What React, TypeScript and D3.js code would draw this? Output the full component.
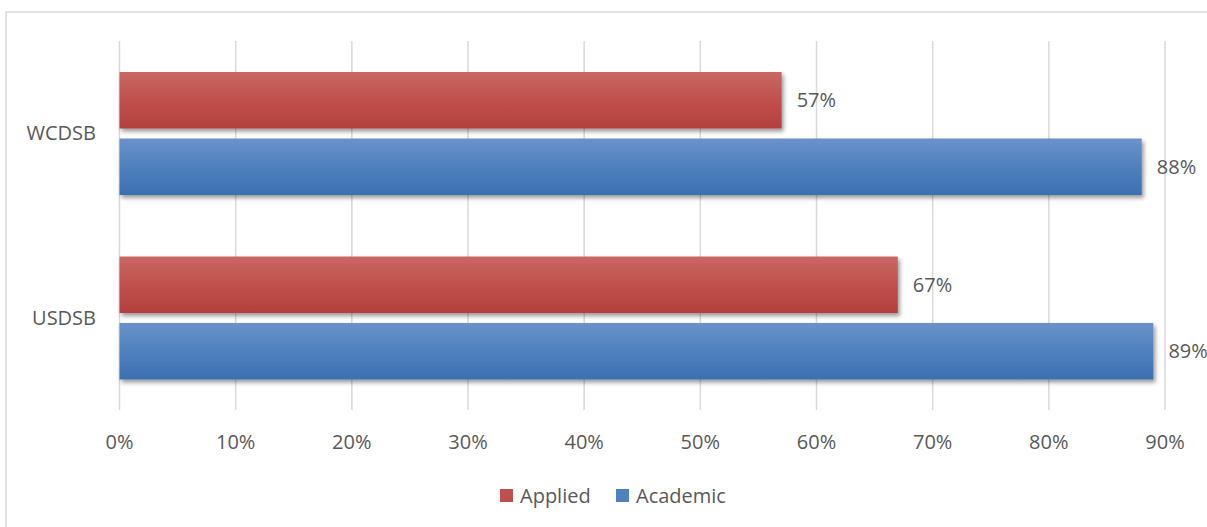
import React from "react";
import { scaleBand, scaleLinear, range } from "d3";

const categories = ["WCDSB", "USDSB"];
const seriesNames = ["Applied", "Academic"];
const applied = [0.57, 0.67];
const academic = [0.88, 0.89];
const tickValues = range(0, 10).map((i) => i / 10);

const seriesValues: Record<string, number[]> = { Applied: applied, Academic: academic };
const gradients: Record<string, string[]> = {
    Applied: ["#c96865", "#c0504d", "#b2403d"],
    Academic: ["#6b92ca", "#4f81bd", "#3d6fb1"],
};
const legendColors: Record<string, string> = { Applied: "#c0504d", Academic: "#4f81bd" };

const W = 1207;
const H = 527;
const FONT = "'Open Sans', 'DejaVu Sans', sans-serif";
const TEXT = "#595959";

export default function App() {
    const x = scaleLinear().domain([0, 0.9]).range([119.5, 1165]);
    const y0 = scaleBand().domain(categories).range([41, 410]);
    const y1 = scaleBand().domain(seriesNames).range([31, 154]).paddingInner(0.15);

    return (
        <svg width={W} height={H} style={{ position: "absolute", left: 0, top: 0, background: "#fff" }}>
            <defs>
                {seriesNames.map((s) => (
                    <linearGradient key={s} id={"g-" + s} x1="0" y1="0" x2="0" y2="1">
                        <stop offset="0%" stopColor={gradients[s][0]} />
                        <stop offset="50%" stopColor={gradients[s][1]} />
                        <stop offset="100%" stopColor={gradients[s][2]} />
                    </linearGradient>
                ))}
                <filter id="shadow" x="-5%" y="-20%" width="110%" height="150%">
                    <feDropShadow dx="2" dy="3" stdDeviation="2" floodColor="#000" floodOpacity="0.4" />
                </filter>
            </defs>
            <rect x={6} y={12} width={W + 10} height={H + 10} fill="none" stroke="#d9d9d9" strokeWidth={1.5} />

            {/* grid */}
            {tickValues.map((t) => (
                <line key={t} x1={x(t)} x2={x(t)} y1={41} y2={410} stroke="#d9d9d9" strokeWidth={1.5} />
            ))}

            {/* bars */}
            {categories.map((c, i) => (
                <g key={c} transform={`translate(0, ${y0(c)})`}>
                    {seriesNames.map((s) => {
                        const v = seriesValues[s][i];
                        const yy = y1(s) || 0;
                        return (
                            <g key={s}>
                                <rect
                                    x={x(0)}
                                    y={yy}
                                    width={x(v) - x(0)}
                                    height={y1.bandwidth()}
                                    fill={`url(#g-${s})`}
                                    filter="url(#shadow)"
                                />
                                <text
                                    x={x(v) + 15}
                                    y={yy + y1.bandwidth() / 2}
                                    dy="0.35em"
                                    fontFamily={FONT}
                                    fontSize={20}
                                    fill={TEXT}
                                >
                                    {Math.round(v * 100)}%
                                </text>
                            </g>
                        );
                    })}
                    <text
                        x={96}
                        y={y0.bandwidth() / 2}
                        dy="0.35em"
                        textAnchor="end"
                        fontFamily={FONT}
                        fontSize={20}
                        fill={TEXT}
                    >
                        {c}
                    </text>
                </g>
            ))}

            {/* x axis labels */}
            {tickValues.map((t) => (
                <text
                    key={t}
                    x={x(t)}
                    y={442}
                    dy="0.35em"
                    textAnchor="middle"
                    fontFamily={FONT}
                    fontSize={20}
                    fill={TEXT}
                >
                    {Math.round(t * 100)}%
                </text>
            ))}

            {/* legend */}
            {seriesNames.map((s, i) => {
                const lx = i === 0 ? 500 : 616;
                return (
                    <g key={s} transform={`translate(${lx}, 489)`}>
                        <rect width={13} height={13} fill={legendColors[s]} />
                        <text x={20} y={6.5} dy="0.35em" fontFamily={FONT} fontSize={20} fill={TEXT}>
                            {s}
                        </text>
                    </g>
                );
            })}
        </svg>
    );
}
